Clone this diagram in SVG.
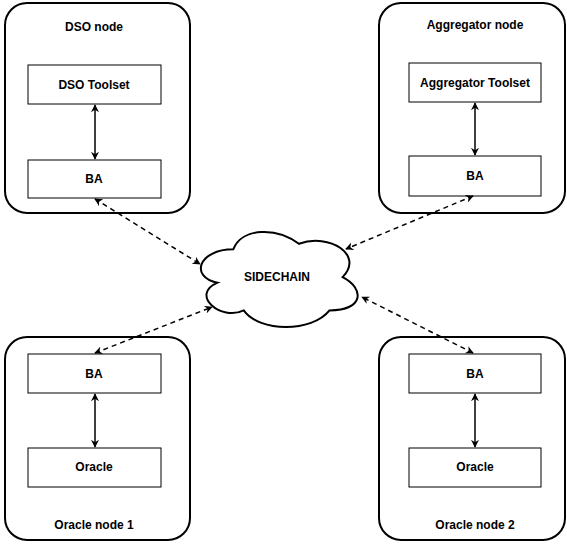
<svg xmlns="http://www.w3.org/2000/svg" width="567" height="550" viewBox="0 0 567 550">
<style>
.outer{fill:#fff;stroke:#000;stroke-width:2}
.inner{fill:#fff;stroke:#000;stroke-width:1}
text{font-family:"Liberation Sans",Arial,sans-serif;font-weight:bold;font-size:12px;fill:#000;text-anchor:middle}
.solid{stroke:#000;stroke-width:1.5;fill:none}
.dash{stroke:#000;stroke-width:1.5;fill:none;stroke-dasharray:5 4}
</style>
<defs>
<marker id="ah" viewBox="0 0 10 10" refX="9" refY="5" markerWidth="8" markerHeight="8" orient="auto-start-reverse" markerUnits="userSpaceOnUse">
<path d="M0,0 L10,5 L0,10 L3,5 Z" fill="#000"/>
</marker>
</defs>
<rect width="567" height="550" fill="#fff"/>
<g id="dso-node">
<rect class="outer" x="5" y="3" width="185" height="210" rx="22"/>
<text x="94" y="31">DSO node</text>
<rect class="inner" x="28" y="65" width="133" height="39"/>
<text x="94" y="89">DSO Toolset</text>
<rect class="inner" x="28" y="160" width="133" height="38"/>
<text x="94" y="183">BA</text>
</g>
<g id="aggregator-node">
<rect class="outer" x="379" y="3" width="186" height="210" rx="22"/>
<text x="475" y="29">Aggregator node</text>
<rect class="inner" x="409" y="63" width="132" height="39"/>
<text x="475" y="87">Aggregator Toolset</text>
<rect class="inner" x="409" y="156" width="132" height="40"/>
<text x="475" y="180">BA</text>
</g>
<g id="oracle-node-1">
<rect class="outer" x="5" y="337" width="185" height="203" rx="22"/>
<rect class="inner" x="28" y="354" width="133" height="39"/>
<text x="94" y="378">BA</text>
<rect class="inner" x="28" y="448" width="133" height="39"/>
<text x="94" y="471">Oracle</text>
<text x="94" y="529">Oracle node 1</text>
</g>
<g id="oracle-node-2">
<rect class="outer" x="379" y="337" width="186" height="203" rx="22"/>
<rect class="inner" x="409" y="354" width="132" height="39"/>
<text x="475" y="378">BA</text>
<rect class="inner" x="409" y="448" width="132" height="39"/>
<text x="475" y="471">Oracle</text>
<text x="475" y="529">Oracle node 2</text>
</g>
<g id="sidechain">
<path class="outer" d="M233.25,249.35 C198.25,249.35 189.5,277.1 217.5,282.65 C189.5,294.86 221,321.5 243.75,310.4 C259.5,332.6 312,332.6 329.5,310.4 C364.5,310.4 364.5,288.2 342.6,277.1 C364.5,254.9 329.5,232.7 298.9,243.8 C277,227.15 242,227.15 233.25,249.35 Z"/>
<text x="277" y="281">SIDECHAIN</text>
</g>
<g id="connectors">
<line class="solid" x1="95" y1="105" x2="95" y2="159" marker-start="url(#ah)" marker-end="url(#ah)"/>
<line class="solid" x1="475" y1="103" x2="475" y2="155" marker-start="url(#ah)" marker-end="url(#ah)"/>
<line class="solid" x1="95" y1="394" x2="95" y2="447" marker-start="url(#ah)" marker-end="url(#ah)"/>
<line class="solid" x1="475" y1="394" x2="475" y2="447" marker-start="url(#ah)" marker-end="url(#ah)"/>
<line class="dash" x1="95" y1="199" x2="200" y2="264" marker-start="url(#ah)" marker-end="url(#ah)"/>
<line class="dash" x1="473" y1="196" x2="346" y2="249" marker-start="url(#ah)" marker-end="url(#ah)"/>
<line class="dash" x1="95" y1="353" x2="212" y2="307" marker-start="url(#ah)" marker-end="url(#ah)"/>
<line class="dash" x1="473" y1="353" x2="362" y2="297" marker-start="url(#ah)" marker-end="url(#ah)"/>
</g>
</svg>
